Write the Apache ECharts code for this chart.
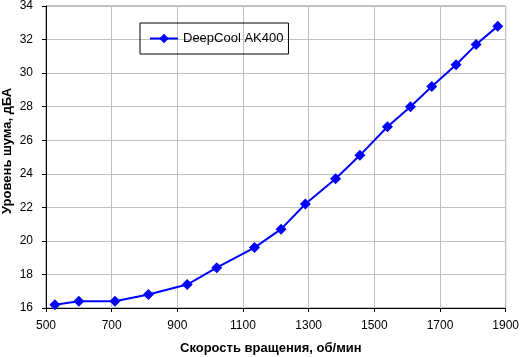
<!DOCTYPE html>
<html><head><meta charset="utf-8">
<script src="https://cdn.jsdelivr.net/npm/echarts@6/dist/echarts.min.js"></script>
<style>html,body{margin:0;padding:0;background:#fff}#c{width:522px;height:357px}</style>
</head><body><div id="c"></div>
<script>
const seriesName = 'DeepCool AK400';
const rpm = [527, 600, 710, 812, 930, 1020, 1135, 1216, 1290, 1382, 1456, 1540, 1610, 1675, 1749, 1810, 1876];
const noise = [16.2, 16.4, 16.4, 16.8, 17.4, 18.4, 19.6, 20.7, 22.2, 23.7, 25.1, 26.8, 28.0, 29.2, 30.5, 31.7, 32.8];
const xName = 'Скорость вращения, об/мин';
const yName = 'Уровень шума, дБА';

const font = 'Liberation Sans, Arial, sans-serif';
const chart = echarts.init(document.getElementById('c'), null, {renderer: 'canvas'});
chart.setOption({
  animation: false,
  backgroundColor: '#fff',
  textStyle: {fontFamily: font},
  grid: {left: 46, top: 5, right: 13, bottom: 49, show: true, borderColor: '#808080', borderWidth: 1},
  legend: {
    left: 140, top: 23, orient: 'horizontal',
    borderColor: '#000', borderWidth: 1, borderRadius: 0,
    padding: [9, 5, 9, 9],
    itemWidth: 28, itemHeight: 12, itemGap: 3,
    textStyle: {fontFamily: font, fontSize: 13, color: '#000'},
    data: [seriesName]
  },
  xAxis: {
    type: 'value', min: 500, max: 1900, interval: 200,
    axisLine: {show: true, lineStyle: {color: '#000', width: 1}},
    axisTick: {show: true, inside: false, length: 4, lineStyle: {color: '#000'}},
    axisLabel: {fontFamily: font, fontSize: 12, color: '#000', margin: 12, formatter: v => String(v)},
    splitLine: {show: true, lineStyle: {color: '#c0c0c0', width: 1}}
  },
  yAxis: {
    type: 'value', min: 16, max: 34, interval: 2,
    axisLine: {show: true, lineStyle: {color: '#000', width: 1}},
    axisTick: {show: true, inside: false, length: 4, lineStyle: {color: '#000'}},
    axisLabel: {fontFamily: font, fontSize: 12, color: '#000', margin: 13, formatter: v => String(v)},
    splitLine: {show: true, lineStyle: {color: '#c0c0c0', width: 1}}
  },
  graphic: [
    {type: 'text', left: 180, top: 342, style: {text: xName, fontFamily: font, fontSize: 13, fontWeight: 'bold', fill: '#000'}},
    {type: 'text', x: 1, y: 214, rotation: Math.PI / 2, style: {text: yName, fontFamily: font, fontSize: 13, fontWeight: 'bold', fill: '#000', textVerticalAlign: 'top'}}
  ],
  series: [{
    name: seriesName, type: 'line',
    data: rpm.map((v, i) => [v, noise[i]]),
    symbol: 'diamond', symbolSize: 11,
    lineStyle: {color: '#0000ff', width: 2},
    itemStyle: {color: '#0000ff'}
  }]
});
</script></body></html>
